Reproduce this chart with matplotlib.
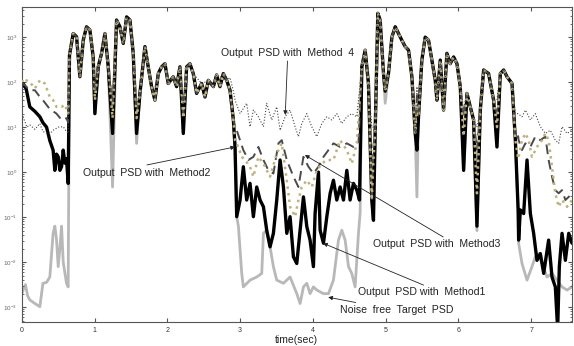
import numpy as np
import matplotlib
matplotlib.use('Agg')
import matplotlib.pyplot as plt
from matplotlib.ticker import LogLocator, NullFormatter

plt.rcParams['font.family'] = ['Liberation Sans', 'DejaVu Sans']

# shared high-level part of all PSD curves (log10 values)
peak1_t = [0.655, 0.706, 0.752, 0.798, 0.844, 0.889, 0.935, 0.981, 1.004, 1.05, 1.096, 1.142, 1.188,
           1.247, 1.302, 1.348, 1.394, 1.44, 1.486, 1.531, 1.577, 1.623, 1.692, 1.737, 1.783, 1.829,
           1.875, 1.921, 1.967, 2.012, 2.081, 2.127, 2.173, 2.219, 2.265, 2.31, 2.356, 2.402, 2.471,
           2.517, 2.563, 2.632, 2.677, 2.723, 2.769, 2.815, 2.861, 2.907, 2.93]
peak1_log = [2.6, 3.08, 3.01, 2.12, 2.93, 3.23, 3.16, 2.56, 1.3, 2.34, 2.64, 3.08, 2.34,
             0.86, 3.38, 3.23, 2.86, 3.45, 3.38, 2.64, 0.86, 1.75, 2.79, 2.34, 1.9, 1.6,
             2.19, 2.34, 2.41, 1.97, 2.12, 1.9, 2.34, 0.86, 2.34, 2.41, 2.19, 1.75, 1.97,
             1.67, 2.04, 1.9, 2.16, 1.9, 2.19, 2.04, 1.82, 1.16, 0.56]
peak2_t = [4.672, 4.718, 4.763, 4.809, 4.832, 4.855, 4.892, 4.924, 4.97, 4.993, 5.039, 5.085,
           5.131, 5.176, 5.222, 5.268, 5.314, 5.36, 5.406, 5.429, 5.451, 5.497, 5.543, 5.589,
           5.635, 5.681, 5.704, 5.75, 5.795, 5.841, 5.887, 5.933, 5.979, 6.025, 6.071, 6.116,
           6.162, 6.208, 6.254, 6.3, 6.346, 6.414, 6.483, 6.529, 6.575, 6.621, 6.667, 6.736,
           6.782, 6.82]
peak2_log = [2.34, 2.71, 1.97, -0.62, -1.07, 0.86, 3.53, 3.38, 2.19, 1.8, 2.2, 3.0,
             3.23, 3.08, 2.93, 2.79, 2.71, 2.12, 0.86, 0.49, 1.23, 2.49, 3.0, 2.93,
             2.49, 2.04, 1.6, 2.49, 1.38, 2.64, 2.41, 2.56, 2.41, 1.9, 0.04, 1.75,
             1.45, 1.16, -1.2, 1.38, 2.27, 2.19, 1.6, 0.56, 2.19, 2.27, 2.12, 1.97,
             0.71, -0.84]

# Noise free target PSD
target_a_t = [0.0, 0.018, 0.05, 0.08, 0.11, 0.18, 0.248, 0.29, 0.34, 0.385, 0.43, 0.454, 0.477,
              0.5, 0.523, 0.546, 0.569, 0.614, 0.637]
target_a = [-2.7, -2.62, -2.5, -2.75, -2.84, -2.92, -2.99, -2.47, -2.45, -2.33, -1.36, -1.2, -1.5,
            -2.1, -1.7, -1.2, -2.0, -2.47, -2.55]
target_b_t = [2.953, 2.976, 3.022, 3.044, 3.136, 3.228, 3.297, 3.32, 3.365, 3.411, 3.457, 3.503,
              3.595, 3.686, 3.778, 3.824, 3.87, 3.916, 3.961, 4.007, 4.053, 4.145, 4.214, 4.282,
              4.351, 4.397, 4.443, 4.489, 4.534, 4.58, 4.626, 4.649]
target_b = [-0.99, -1.2, -2.25, -2.55, -2.4, -2.33, -2.25, -1.36, -1.29, -1.66, -2.1, -2.4,
            -2.47, -2.33, -2.7, -2.92, -2.55, -2.47, -2.7, -2.55, -2.62, -2.7, -2.7, -2.4,
            -1.51, -1.29, -1.51, -2.1, -2.25, -2.55, -1.36, -0.9]
target_c_t = [6.827, 6.873, 6.942, 7.01, 7.056, 7.102, 7.148, 7.217, 7.285, 7.354, 7.423, 7.492,
              7.56, 7.6]
target_c = [-1.58, -2.03, -2.4, -2.1, -1.88, -1.81, -2.03, -2.33, -2.25, -2.4, -2.55, -2.62,
            -2.55, -2.47]
target_dips = {1.247: -0.33, 1.577: 0.64, 4.993: 1.53, 5.429: -0.55, 6.254: -1.3}

# Method 1 (black)
m1_a_t = [0.0, 0.018, 0.06, 0.11, 0.18, 0.248, 0.29, 0.34, 0.385, 0.43, 0.454, 0.477, 0.5,
          0.523, 0.546, 0.569, 0.592, 0.614, 0.637]
m1_a = [1.9, 1.97, 1.85, 1.45, 1.35, 1.23, 1.1, 1.0, 0.7, 0.49, 0.04, 0.4, 0.34,
        0.04, 0.12, 0.49, 0.2, 0.3, -0.25]
m1_b_t = [2.953, 2.999, 3.044, 3.09, 3.136, 3.182, 3.228, 3.274, 3.32, 3.365, 3.411, 3.457,
          3.503, 3.549, 3.595, 3.641, 3.686, 3.732, 3.778, 3.824, 3.87, 3.916, 3.961, 4.007,
          4.03, 4.076, 4.099, 4.145, 4.191, 4.237, 4.282, 4.328, 4.374, 4.42, 4.466, 4.511,
          4.557, 4.603, 4.64]
m1_b = [-0.99, -0.62, 0.12, -0.62, -0.25, -0.99, -0.33, -0.62, -0.77, -1.29, -1.66, -1.36,
        -0.62, 0.27, -0.33, -1.36, -0.99, -1.88, -2.03, -1.29, -0.55, -1.21, -1.51, -2.1,
        -0.92, 0.0, -1.29, -1.58, -0.99, -0.47, -0.18, -0.62, -0.33, -0.62, 0.04, -0.62,
        -0.25, -0.4, -0.62]
m1_c_t = [6.827, 6.85, 6.896, 6.942, 6.988, 7.033, 7.079, 7.125, 7.171, 7.239, 7.285, 7.331,
          7.363, 7.386, 7.423, 7.469, 7.515, 7.56, 7.6]
m1_c = [-1.51, -0.84, -0.92, 0.27, -0.92, -1.36, -1.96, -1.81, -2.25, -1.51, -2.33, -2.55,
        -3.5, -2.1, -1.36, -1.96, -1.36, -1.58, -1.5]
m1_dips = {}

# Method 2 (khaki dotted)
m2_a_t = [0.0, 0.018, 0.11, 0.179, 0.248, 0.316, 0.385, 0.43, 0.477, 0.546, 0.592, 0.637]
m2_a = [2.0, 2.08, 2.0, 1.86, 2.04, 1.97, 1.67, 1.6, 1.45, 1.45, 1.5, 1.3]
m2_b_t = [2.976, 3.022, 3.067, 3.136, 3.182, 3.251, 3.32, 3.411, 3.503, 3.572, 3.641, 3.686,
          3.755, 3.801, 3.847, 3.916, 3.984, 4.053, 4.122, 4.191, 4.282, 4.374, 4.466, 4.534,
          4.603]
m2_b = [0.56, 0.34, 0.27, 0.12, -0.1, 0.34, 0.19, -0.1, 0.41, 0.64, -0.18, -0.77,
        -0.99, -0.62, -0.33, -0.18, -0.33, 0.04, 0.19, 0.27, 0.27, 0.71, 0.49, 0.19,
        0.64]
m2_c_t = [6.827, 6.873, 6.919, 6.965, 7.01, 7.079, 7.148, 7.194, 7.239, 7.285, 7.331, 7.377,
          7.423, 7.492, 7.56, 7.6]
m2_c = [0.34, 0.71, 0.86, 0.71, 0.34, 0.56, 0.71, 0.86, 0.71, 0.12, -0.47, -0.77,
        -0.62, -0.77, -0.62, -0.7]
m2_dips = {1.004: 1.6, 1.247: 1.2, 1.577: 1.2, 2.219: 1.2, 2.93: 0.7, 4.832: 0.3, 5.429: 1.5,
           6.071: 0.8, 6.254: -0.47, 6.529: 1.0, 6.82: 0.3}

# Method 3 (dashed)
m3_a_t = [0.0, 0.018, 0.11, 0.18, 0.248, 0.29, 0.385, 0.477, 0.546, 0.614, 0.637]
m3_a = [1.9, 1.97, 1.82, 1.82, 1.67, 1.6, 1.4, 1.3, 1.16, 1.2, 1.1]
m3_b_t = [2.953, 2.999, 3.044, 3.113, 3.182, 3.251, 3.32, 3.388, 3.457, 3.526, 3.572, 3.641,
          3.732, 3.801, 3.87, 3.939, 4.007, 4.076, 4.145, 4.214, 4.282, 4.374, 4.466, 4.557,
          4.626]
m3_b = [0.93, 0.71, 0.49, 0.27, 0.34, 0.56, 0.27, 0.04, -0.03, 0.64, 0.71, 0.27,
        -0.1, -0.33, 0.34, 0.12, -0.03, 0.12, 0.34, 0.49, 0.64, 0.56, 0.64, 0.56,
        0.64]
m3_c_t = [6.827, 6.873, 6.919, 6.988, 7.056, 7.125, 7.194, 7.239, 7.285, 7.331, 7.377, 7.423,
          7.469, 7.515, 7.56, 7.6]
m3_c = [0.71, 0.49, 0.64, 0.56, 0.79, 0.71, 0.79, 0.27, -0.1, -0.4, -0.47, -0.4,
        -0.62, -0.55, -0.47, -0.55]
m3_dips = {1.004: 1.7, 1.247: 1.4, 1.577: 1.3, 2.219: 1.3, 2.93: 1.0, 4.832: 0.6, 5.429: 1.7,
           6.071: 1.2, 6.254: 0.5, 6.529: 1.3, 6.82: 0.8}

# Method 4 (thin dotted)
m4_a_t = [0.0, 0.018, 0.07, 0.11, 0.18, 0.248, 0.29, 0.385, 0.43, 0.5, 0.569, 0.614, 0.637]
m4_a = [1.1, 1.23, 1.0, 1.05, 0.95, 1.08, 0.9, 0.85, 0.93, 1.0, 1.01, 0.9, 0.86]
m4_b_t = [2.999, 3.09, 3.136, 3.182, 3.251, 3.32, 3.365, 3.434, 3.503, 3.549, 3.618, 3.686,
          3.755, 3.801, 3.847, 3.916, 3.984, 4.053, 4.122, 4.191, 4.26, 4.328, 4.397, 4.466,
          4.534, 4.603]
m4_b = [1.3, 1.53, 1.01, 1.38, 1.23, 1.01, 1.53, 1.16, 1.45, 0.93, 1.23, 1.38,
        1.01, 0.79, 1.08, 1.3, 1.01, 0.79, 1.08, 1.23, 1.16, 1.3, 1.08, 1.23,
        1.3, 1.23]
m4_c_t = [6.873, 6.919, 6.988, 7.056, 7.125, 7.194, 7.262, 7.331, 7.377, 7.423, 7.492, 7.56, 7.6]
m4_c = [1.23, 1.38, 1.16, 1.3, 1.01, 0.86, 0.93, 0.71, 0.64, 1.01, 0.86, 0.93, 1.01]
m4_dips = {1.004: 1.8, 1.247: 1.6, 1.577: 1.5, 1.829: 1.9, 2.219: 1.5, 2.402: 2.1, 2.517: 2.0,
           2.723: 2.1, 2.861: 2.1, 2.907: 1.8, 2.93: 1.6, 4.809: 1.0, 4.832: 1.0, 5.429: 1.9,
           6.071: 1.4, 6.254: 1.0, 6.529: 1.6, 6.782: 1.3, 6.82: 1.3}


def build(a_t, a, b_t, b, c_t, c, dips):
    p1 = [dips.get(t, v) for t, v in zip(peak1_t, peak1_log)]
    p2 = [dips.get(t, v) for t, v in zip(peak2_t, peak2_log)]
    t = list(a_t) + peak1_t + list(b_t) + peak2_t + list(c_t)
    y = list(a) + p1 + list(b) + p2 + list(c)
    return np.array(t), 10.0 ** np.array(y)


fig = plt.figure(figsize=(5.74, 3.46), dpi=100)
ax = fig.add_axes([0.038, 0.0694, 0.9585, 0.9104])

t, y = build(target_a_t, target_a, target_b_t, target_b, target_c_t, target_c, target_dips)
ax.plot(t, y, color='#b8b8b8', lw=2.0, zorder=1)
t, y = build(m1_a_t, m1_a, m1_b_t, m1_b, m1_c_t, m1_c, m1_dips)
ax.plot(t, y, color='black', lw=2.4, zorder=2)
t, y = build(m3_a_t, m3_a, m3_b_t, m3_b, m3_c_t, m3_c, m3_dips)
ax.plot(t, y, color='#4a4a4a', lw=1.4, dashes=(5, 3), zorder=3)
t, y = build(m2_a_t, m2_a, m2_b_t, m2_b, m2_c_t, m2_c, m2_dips)
ax.plot(t, y, color='#bfb27a', lw=1.8, ls=':', zorder=4)
t, y = build(m4_a_t, m4_a, m4_b_t, m4_b, m4_c_t, m4_c, m4_dips)
ax.plot(t, y, color='#444444', lw=0.8, ls=':', zorder=5)

ax.set_yscale('log')
ax.set_xlim(0, 7.56)
ax.set_ylim(10 ** -3.33, 10 ** 3.67)
ax.set_xticks(range(8))
ax.set_yticks([10.0 ** k for k in range(-3, 4)])
ax.yaxis.set_minor_locator(LogLocator(base=10, subs=np.arange(2, 10), numticks=20))
ax.yaxis.set_minor_formatter(NullFormatter())
ax.tick_params(which='both', direction='in', top=True, right=True, colors='#555555')
ax.tick_params(which='major', length=3, labelsize=5)
ax.tick_params(which='minor', length=1.5)
ax.tick_params(axis='y', labelsize=4.5, labelcolor='#666666')
ax.tick_params(axis='x', labelcolor='#333333')
for s in ax.spines.values():
    s.set_color('#555555')
    s.set_linewidth(0.8)
ax.set_xlabel('time(sec)', fontsize=7.5, labelpad=1, color='#222222')

arr = dict(arrowstyle='-|>', lw=0.6, color='#222222', mutation_scale=6, shrinkA=0, shrinkB=0)
txt = dict(fontsize=7.6, color='#222222', va='center', ha='left')
ax.annotate('Output  PSD with  Method  4', xy=(3.62, 10 ** 1.27), xytext=(2.74, 10 ** 2.64),
            arrowprops=arr, **txt)
ax.annotate('', xy=(2.93, 10 ** 0.56), xytext=(1.72, 10 ** 0.16), arrowprops=arr)
ax.text(0.84, 10 ** -0.02, 'Output  PSD with  Method2', **txt)
ax.annotate('', xy=(3.89, 10 ** 0.38), xytext=(5.79, 10 ** -1.44), arrowprops=arr)
ax.text(4.83, 10 ** -1.6, 'Output  PSD with  Method3', **txt)
ax.annotate('', xy=(4.14, 10 ** -1.58), xytext=(5.52, 10 ** -2.51), arrowprops=arr)
ax.text(4.62, 10 ** -2.67, 'Output  PSD with  Method1', **txt)
ax.annotate('Noise  free  Target  PSD', xy=(4.21, 10 ** -2.78), xytext=(4.37, 10 ** -3.07),
            arrowprops=arr, **txt)

fig.savefig('out.png', dpi=100)
